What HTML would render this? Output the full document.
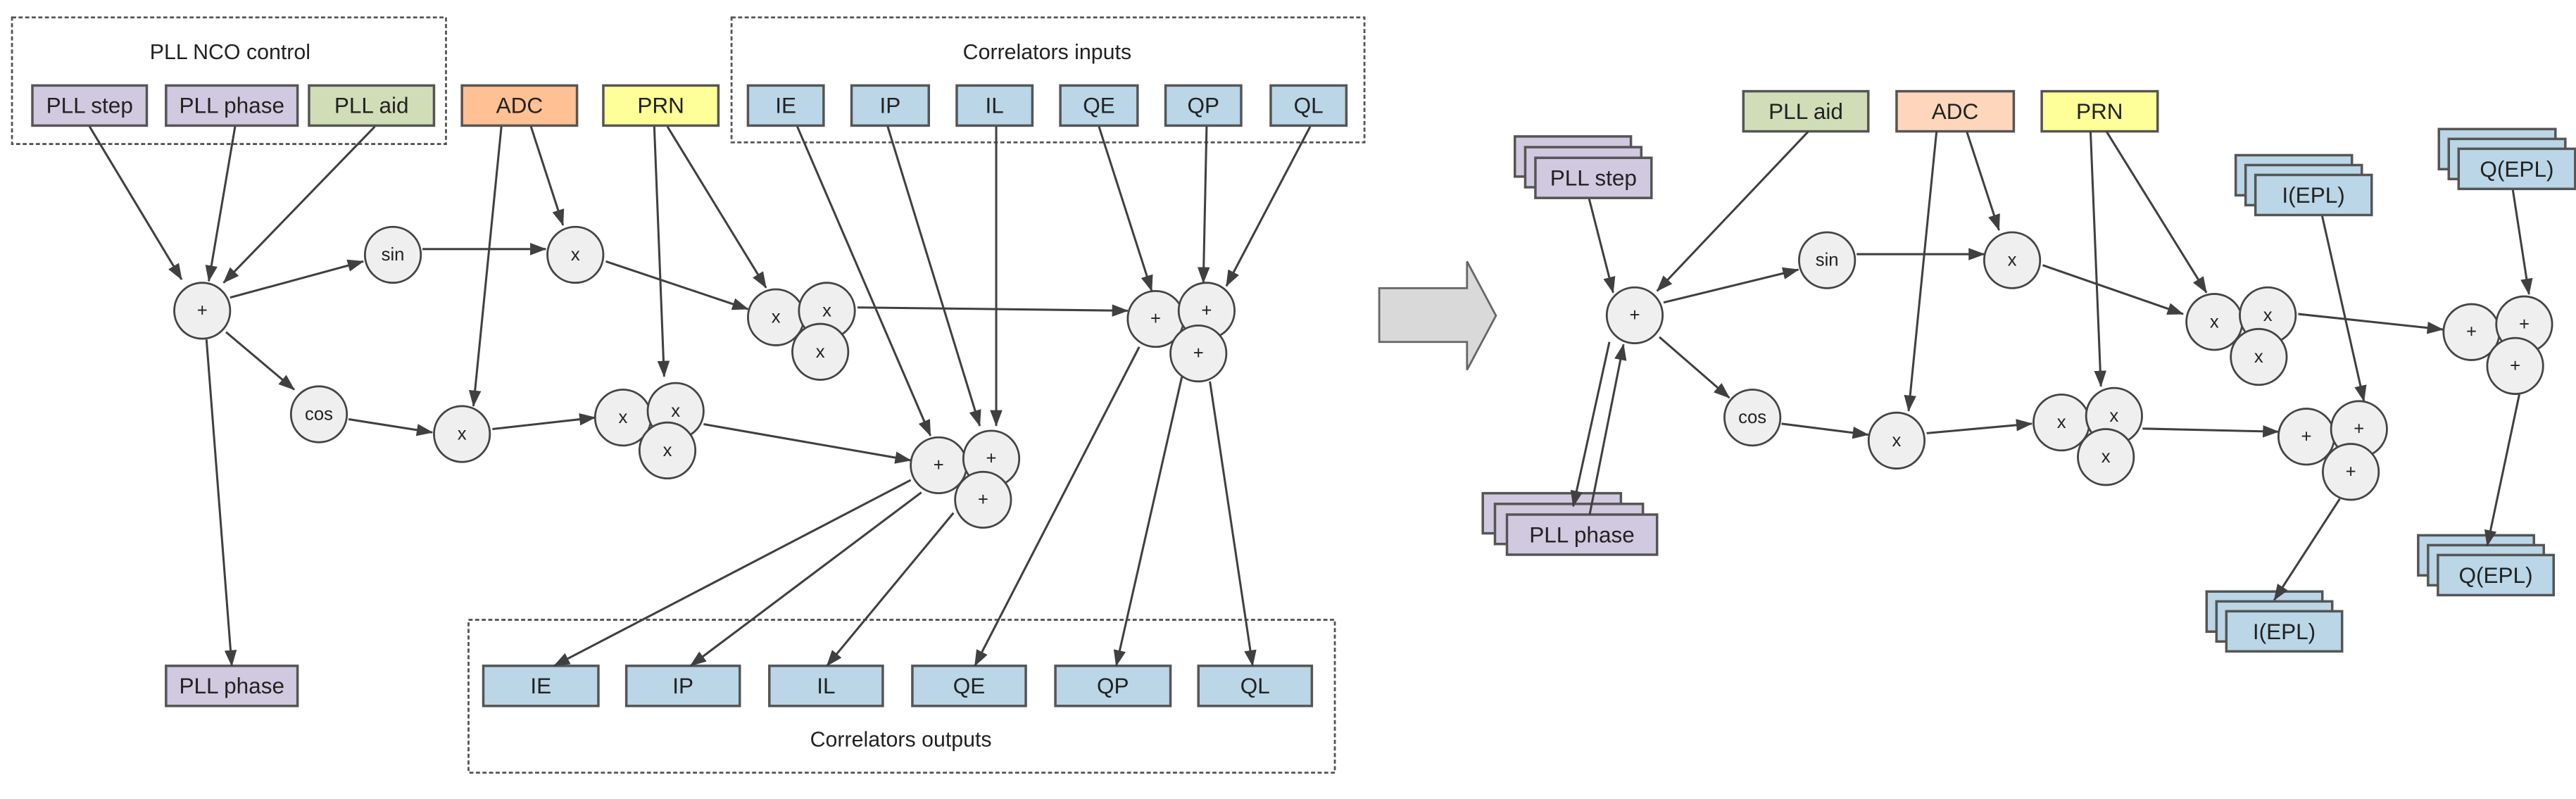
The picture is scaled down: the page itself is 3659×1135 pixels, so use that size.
<!DOCTYPE html>
<html><head><meta charset="utf-8"><style>html,body{margin:0;padding:0;background:#fff}svg{display:block}</style></head>
<body>
<svg width="3659" height="1135" viewBox="0 0 1567 486" preserveAspectRatio="none" xmlns="http://www.w3.org/2000/svg" font-family="Liberation Sans, sans-serif">
<defs>
<marker id="a" markerUnits="userSpaceOnUse" markerWidth="10" markerHeight="8" refX="9.5" refY="3.75" orient="auto"><path d="M0,0 L10,3.75 L0,7.5 z" fill="#404040"/></marker>
</defs>
<style>
.b{stroke:#555;stroke-width:1.5}
.p{fill:#d1c9df}.g{fill:#d1ddb7}.o{fill:#ffc093}.o2{fill:#fdd6bb}.y{fill:#ffff99}.u{fill:#bad6e7}
.t{font-size:13.5px;fill:#222;text-anchor:middle;dominant-baseline:central}
.c{fill:#efefef;stroke:#444;stroke-width:1.2}
.ct{font-size:11px;fill:#222;text-anchor:middle;dominant-baseline:central}
.l{stroke:#404040;stroke-width:1.3;fill:none;marker-end:url(#a)}
.d{fill:none;stroke:#555;stroke-width:1.2;stroke-dasharray:2.5,1.5}
.h{font-size:13px;fill:#222;text-anchor:middle;dominant-baseline:central}
</style>

<rect class="d" x="7.3" y="10.6" width="264" height="77"/>
<text class="h" x="140" y="32">PLL NCO control</text>
<rect class="d" x="445" y="10.6" width="385" height="76"/>
<text class="h" x="637" y="32">Correlators inputs</text>
<rect class="d" x="285" y="377" width="527" height="93"/>
<text class="h" x="548" y="450">Correlators outputs</text>

<rect class="b p" x="19.7" y="52" width="69.6" height="24.4"/><text class="t" x="54.5" y="64">PLL step</text>
<rect class="b p" x="101" y="52" width="80" height="24.4"/><text class="t" x="141" y="64">PLL phase</text>
<rect class="b g" x="188" y="52" width="76" height="24.4"/><text class="t" x="226" y="64">PLL aid</text>
<rect class="b o" x="281" y="52" width="70" height="24.4"/><text class="t" x="316" y="64">ADC</text>
<rect class="b y" x="367" y="52" width="70" height="24.4"/><text class="t" x="402" y="64">PRN</text>
<rect class="b u" x="455" y="52" width="46" height="24.4"/><text class="t" x="478" y="64">IE</text>
<rect class="b u" x="518" y="52" width="47" height="24.4"/><text class="t" x="541.5" y="64">IP</text>
<rect class="b u" x="582" y="52" width="46" height="24.4"/><text class="t" x="605" y="64">IL</text>
<rect class="b u" x="645" y="52" width="47" height="24.4"/><text class="t" x="668.5" y="64">QE</text>
<rect class="b u" x="709" y="52" width="46" height="24.4"/><text class="t" x="732" y="64">QP</text>
<rect class="b u" x="773" y="52" width="46" height="24.4"/><text class="t" x="796" y="64">QL</text>

<rect class="b p" x="101" y="405" width="80" height="24.4"/><text class="t" x="141" y="417">PLL phase</text>
<rect class="b u" x="294" y="405" width="70" height="24.4"/><text class="t" x="329" y="417">IE</text>
<rect class="b u" x="381" y="405" width="69" height="24.4"/><text class="t" x="415.5" y="417">IP</text>
<rect class="b u" x="468" y="405" width="69" height="24.4"/><text class="t" x="502.5" y="417">IL</text>
<rect class="b u" x="555" y="405" width="69" height="24.4"/><text class="t" x="589.5" y="417">QE</text>
<rect class="b u" x="642" y="405" width="70" height="24.4"/><text class="t" x="677" y="417">QP</text>
<rect class="b u" x="729" y="405" width="69" height="24.4"/><text class="t" x="763.5" y="417">QL</text>

<path class="l" d="M54.5,77 L110.5,170"/>
<path class="l" d="M143,77 L127,171"/>
<path class="l" d="M228,77 L136,172"/>
<path class="l" d="M140,181 L221,159"/>
<path class="l" d="M257,151.5 L332,151.5"/>
<path class="l" d="M323,77 L342.5,137"/>
<path class="l" d="M368.5,159 L455,188"/>
<path class="l" d="M406,77 L466,175"/>
<path class="l" d="M521.6,187 L686,189"/>
<path class="l" d="M137.5,202 L179,237"/>
<path class="l" d="M212,255 L263,263"/>
<path class="l" d="M305,77 L288,247"/>
<path class="l" d="M299.5,261 L362,254"/>
<path class="l" d="M398,77 L404,229"/>
<path class="l" d="M428,258 L554,280"/>
<path class="l" d="M485,77 L566,265"/>
<path class="l" d="M540,77 L596,259"/>
<path class="l" d="M606,77 L606,259"/>
<path class="l" d="M668.5,77 L700.6,177"/>
<path class="l" d="M734,77 L732,172"/>
<path class="l" d="M797,77 L746,174"/>
<path class="l" d="M125.6,206.5 L141,405"/>
<path class="l" d="M554,292 L337,405"/>
<path class="l" d="M560.5,299.5 L420,405"/>
<path class="l" d="M580,312 L503,405"/>
<path class="l" d="M693,211 L593,405"/>
<path class="l" d="M719,229 L679,405"/>
<path class="l" d="M736,232 L762,405"/>

<circle class="c" cx="123" cy="189" r="17"/><text class="ct" x="123" y="189">+</text>
<circle class="c" cx="239" cy="155" r="17"/><text class="ct" x="239" y="155">sin</text>
<circle class="c" cx="350" cy="155" r="17"/><text class="ct" x="350" y="155">x</text>
<circle class="c" cx="194" cy="252" r="17"/><text class="ct" x="194" y="252">cos</text>
<circle class="c" cx="281" cy="264" r="17"/><text class="ct" x="281" y="264">x</text>
<circle class="c" cx="472" cy="193" r="17"/><text class="ct" x="472" y="193">x</text>
<circle class="c" cx="503" cy="189" r="17"/><text class="ct" x="503" y="189">x</text>
<circle class="c" cx="499" cy="214" r="17"/><text class="ct" x="499" y="214">x</text>
<circle class="c" cx="379" cy="254" r="17"/><text class="ct" x="379" y="254">x</text>
<circle class="c" cx="411" cy="250" r="17"/><text class="ct" x="411" y="250">x</text>
<circle class="c" cx="406" cy="274" r="17"/><text class="ct" x="406" y="274">x</text>
<circle class="c" cx="571" cy="283" r="17"/><text class="ct" x="571" y="283">+</text>
<circle class="c" cx="603" cy="279" r="17"/><text class="ct" x="603" y="279">+</text>
<circle class="c" cx="598" cy="304" r="17"/><text class="ct" x="598" y="304">+</text>
<circle class="c" cx="703" cy="194" r="17"/><text class="ct" x="703" y="194">+</text>
<circle class="c" cx="734" cy="189" r="17"/><text class="ct" x="734" y="189">+</text>
<circle class="c" cx="729" cy="215" r="17"/><text class="ct" x="729" y="215">+</text>

<path d="M839,175.3 L892.4,175.3 L892.4,159 L910,192 L892.4,225 L892.4,208 L839,208 z" fill="#d9d9d9" stroke="#666" stroke-width="1.2"/>

<rect class="b g" x="1060.5" y="55.5" width="76" height="24.4"/><text class="t" x="1098.5" y="67.7">PLL aid</text>
<rect class="b o2" x="1153.7" y="55.5" width="71.3" height="24.4"/><text class="t" x="1189.3" y="67.7">ADC</text>
<rect class="b y" x="1242" y="55.5" width="70.5" height="24.4"/><text class="t" x="1277.2" y="67.7">PRN</text>

<g class="b p">
<rect x="921.5" y="83" width="70.6" height="24.4"/><rect x="927.8" y="89.5" width="70.6" height="24.4"/><rect x="934" y="96" width="70.6" height="24.4"/>
<rect x="902" y="300" width="84" height="24.4"/><rect x="909.4" y="306.5" width="90" height="24.4"/><rect x="916.7" y="313" width="91.3" height="24.4"/>
</g>
<text class="t" x="969.3" y="108.2">PLL step</text>
<text class="t" x="962.3" y="325.2">PLL phase</text>
<g class="b u">
<rect x="1360" y="94.4" width="70.7" height="24.4"/><rect x="1366" y="100.4" width="70.7" height="24.4"/><rect x="1372" y="106.4" width="70.7" height="24.4"/>
<rect x="1483.6" y="78.5" width="70.9" height="24.4"/><rect x="1489.6" y="84.5" width="70.9" height="24.4"/><rect x="1495.6" y="90.5" width="70.9" height="24.4"/>
<rect x="1342.3" y="359.8" width="70.4" height="24.4"/><rect x="1348.3" y="365.8" width="70.4" height="24.4"/><rect x="1354.3" y="371.8" width="70.4" height="24.4"/>
<rect x="1471" y="325.6" width="70.4" height="24.4"/><rect x="1477" y="331.6" width="70.4" height="24.4"/><rect x="1483" y="337.6" width="70.4" height="24.4"/>
</g>
<text class="t" x="1407.3" y="118.6">I(EPL)</text>
<text class="t" x="1531" y="102.7">Q(EPL)</text>
<text class="t" x="1389.5" y="384">I(EPL)</text>
<text class="t" x="1518.2" y="349.8">Q(EPL)</text>

<path class="l" d="M966.7,121 L981.3,178"/>
<path class="l" d="M1100,80 L1008,177"/>
<path class="l" d="M1012,184 L1094,164"/>
<path class="l" d="M1129.4,154.6 L1207,154.6"/>
<path class="l" d="M1196.4,80 L1216,140"/>
<path class="l" d="M1242.6,161.3 L1328,191"/>
<path class="l" d="M1281.4,80 L1342.2,178"/>
<path class="l" d="M1398,191 L1486,200.4"/>
<path class="l" d="M1009.4,205 L1052,242"/>
<path class="l" d="M1083.7,257.7 L1136.5,264.4"/>
<path class="l" d="M1178,80 L1161,250"/>
<path class="l" d="M1172,263.5 L1236,257.7"/>
<path class="l" d="M1271.7,80 L1278,235"/>
<path class="l" d="M1303.3,260.7 L1386,262.6"/>
<path class="l" d="M1412.6,131.4 L1438,244"/>
<path class="l" d="M1528.6,115.6 L1538.4,179"/>
<path class="l" d="M1423.3,303.4 L1383.4,365"/>
<path class="l" d="M1532.5,240 L1513,332"/>
<path class="l" d="M979,208 L957,308"/>
<path class="l" d="M967,313 L987.6,209.5"/>

<circle class="c" cx="994.4" cy="191.8" r="17"/><text class="ct" x="994.4" y="191.8">+</text>
<circle class="c" cx="1111.4" cy="158.3" r="17"/><text class="ct" x="1111.4" y="158.3">sin</text>
<circle class="c" cx="1224" cy="158.3" r="17"/><text class="ct" x="1224" y="158.3">x</text>
<circle class="c" cx="1066" cy="254" r="17"/><text class="ct" x="1066" y="254">cos</text>
<circle class="c" cx="1153.7" cy="268" r="17"/><text class="ct" x="1153.7" y="268">x</text>
<circle class="c" cx="1347" cy="195.8" r="17"/><text class="ct" x="1347" y="195.8">x</text>
<circle class="c" cx="1379.5" cy="191.8" r="17"/><text class="ct" x="1379.5" y="191.8">x</text>
<circle class="c" cx="1374" cy="217.1" r="17"/><text class="ct" x="1374" y="217.1">x</text>
<circle class="c" cx="1254" cy="257" r="17"/><text class="ct" x="1254" y="257">x</text>
<circle class="c" cx="1286" cy="253" r="17"/><text class="ct" x="1286" y="253">x</text>
<circle class="c" cx="1281" cy="278" r="17"/><text class="ct" x="1281" y="278">x</text>
<circle class="c" cx="1403" cy="265.6" r="17"/><text class="ct" x="1403" y="265.6">+</text>
<circle class="c" cx="1435" cy="261" r="17"/><text class="ct" x="1435" y="261">+</text>
<circle class="c" cx="1430" cy="287" r="17"/><text class="ct" x="1430" y="287">+</text>
<circle class="c" cx="1503.4" cy="202" r="17"/><text class="ct" x="1503.4" y="202">+</text>
<circle class="c" cx="1535.5" cy="197.3" r="17"/><text class="ct" x="1535.5" y="197.3">+</text>
<circle class="c" cx="1530" cy="222.6" r="17"/><text class="ct" x="1530" y="222.6">+</text>
</svg>
</body></html>
